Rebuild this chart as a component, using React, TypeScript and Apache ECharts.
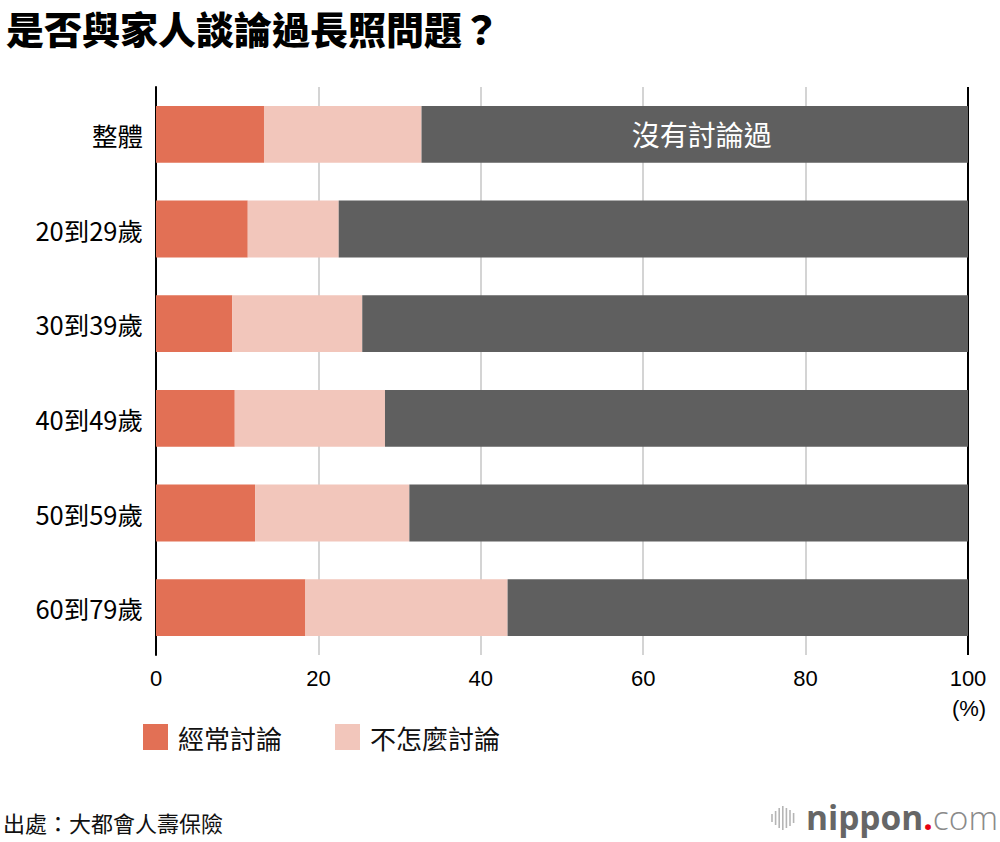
import React, { useEffect, useRef } from "react";
import * as echarts from "echarts";

const categories = ["整體", "20到29歲", "30到39歲", "40到49歲", "50到59歲", "60到79歲"];
const often = [13.3, 11.3, 9.4, 9.7, 12.2, 18.4];
const notMuch = [19.4, 11.2, 16.0, 18.5, 19.0, 24.9];
const never = [67.3, 77.5, 74.6, 71.8, 68.8, 56.7];
const seriesNames = ["經常討論", "不怎麼討論", "沒有討論過"];
const xTicks = { min: 0, max: 100, interval: 20 };

const CJK = '"Noto Sans CJK TC", "Noto Sans CJK SC", sans-serif';
const NUM = '"Liberation Sans", "Noto Sans CJK TC", sans-serif';

const logoBars = [8, 14, 20, 24, 20, 16, 10];

export default function App() {
  const ref = useRef<HTMLDivElement>(null);
  useEffect(() => {
    const chart = echarts.init(ref.current!, null, { renderer: "svg" });
    const barGraphics = logoBars.map((h, i) => ({
      type: "line",
      shape: { x1: 772 + i * 3.6, y1: 818 - h / 2, x2: 772 + i * 3.6, y2: 818 + h / 2 },
      style: { stroke: "#b5b5b5", lineWidth: 1.6 },
    }));
    chart.setOption({
      animation: false,
      backgroundColor: "#fff",
      graphic: [
        {
          type: "text",
          x: 6,
          y: 27,
          style: {
            text: "是否與家人談論過長照問題？",
            fontFamily: CJK,
            fontSize: 38,
            fontWeight: 900,
            fill: "#000",
            verticalAlign: "middle",
          },
        },
        {
          type: "text",
          x: 969,
          y: 708,
          style: {
            text: "(%)",
            fontFamily: NUM,
            fontSize: 22,
            fill: "#000",
            align: "center",
            verticalAlign: "middle",
          },
        },
        {
          type: "text",
          x: 3,
          y: 822,
          style: {
            text: "出處：大都會人壽保險",
            fontFamily: CJK,
            fontSize: 22,
            fill: "#111",
            verticalAlign: "middle",
          },
        },
        ...barGraphics,
        {
          type: "text",
          x: 998,
          y: 817,
          style: {
            text: "{a|nippon}{b|.}{c|com}",
            align: "right",
            verticalAlign: "middle",
            rich: {
              a: { fontFamily: '"Open Sans", sans-serif', fontSize: 33.5, fontWeight: "bold", fill: "#666" },
              b: { fontFamily: '"Open Sans", sans-serif', fontSize: 33.5, fontWeight: "bold", fill: "#e60012" },
              c: { fontFamily: '"Open Sans", sans-serif', fontSize: 33.5, fontWeight: 300, fill: "#8a8a8a" },
            },
          },
        },
      ],
      legend: {
        data: [seriesNames[0], seriesNames[1]],
        left: 143,
        top: 724,
        padding: 0,
        icon: "rect",
        itemWidth: 25,
        itemHeight: 26,
        itemGap: 53,
        textStyle: { fontFamily: CJK, fontSize: 26, color: "#111", padding: [0, 0, 0, 5] },
      },
      grid: { left: 156, right: 32, top: 87, bottom: 187, containLabel: false },
      xAxis: {
        type: "value",
        min: xTicks.min,
        max: xTicks.max,
        interval: xTicks.interval,
        axisLine: { show: false },
        axisTick: { show: false },
        axisLabel: { fontFamily: NUM, fontSize: 22, color: "#000", margin: 12 },
        splitLine: {
          show: true,
          lineStyle: {
            color: ["#000", "#d4d4d4", "#d4d4d4", "#d4d4d4", "#d4d4d4", "#000"],
            width: 2,
          },
        },
      },
      yAxis: {
        type: "category",
        data: categories,
        inverse: true,
        axisLine: { show: true, lineStyle: { color: "#000", width: 2 } },
        axisTick: { show: false },
        axisLabel: { fontFamily: CJK, fontSize: 25.5, color: "#000", margin: 13 },
      },
      series: [
        {
          name: seriesNames[0],
          type: "bar",
          stack: "all",
          data: often,
          barCategoryGap: "40%",
          itemStyle: { color: "#e27055" },
        },
        {
          name: seriesNames[1],
          type: "bar",
          stack: "all",
          data: notMuch,
          itemStyle: { color: "#f2c6bb" },
        },
        {
          name: seriesNames[2],
          type: "bar",
          stack: "all",
          data: never.map((v, i) =>
            i === 0
              ? {
                  value: v,
                  label: {
                    show: true,
                    position: "inside",
                    formatter: seriesNames[2],
                    color: "#fff",
                    fontFamily: CJK,
                    fontSize: 28,
                    offset: [7, 0],
                  },
                }
              : v
          ),
          itemStyle: { color: "#5f5f5f" },
        },
      ],
    });
    return () => chart.dispose();
  }, []);
  return (
    <div
      ref={ref}
      style={{ position: "fixed", left: 0, top: 0, width: 1000, height: 842 }}
    />
  );
}
